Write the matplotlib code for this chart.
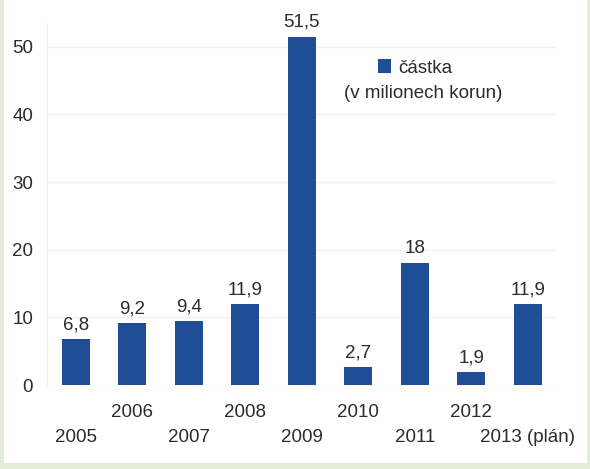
import matplotlib
matplotlib.use("Agg")
from matplotlib import pyplot as plt
from matplotlib.patches import Rectangle

roky = ['2005', '2006', '2007', '2008', '2009', '2010', '2011', '2012', '2013 (plán)']
castka = [6.8, 9.2, 9.4, 11.9, 51.5, 2.7, 18, 1.9, 11.9]
popisky = ['6,8', '9,2', '9,4', '11,9', '51,5', '2,7', '18', '1,9', '11,9']
yticks = [0, 10, 20, 30, 40, 50]

plt.rcParams['font.family'] = ['Liberation Sans', 'DejaVu Sans']
fs = 13.5
barva_textu = '#2b2b2b'

fig = plt.figure(figsize=(5.90, 4.69), dpi=100, facecolor='#e3ecd9')
# bily panel
fig.add_artist(Rectangle((4/590, 6/469), 583/590, 463/469, transform=fig.transFigure,
                         facecolor='white', edgecolor='none', zorder=-5))

ax = fig.add_axes([47/590, 1 - 385/469, 509/590, 362/469])
ax.set_facecolor('none')

x = list(range(len(roky)))
bars = ax.bar(x, castka, width=0.5, color='#1f4e96', zorder=3, label='částka')

ax.set_xlim(-0.51, 8.5)
ax.set_ylim(0, 53.5)
ax.set_yticks(yticks)
ax.set_yticklabels([str(v) for v in yticks], fontsize=fs, color=barva_textu)
ax.tick_params(axis='y', length=0, pad=10)
ax.set_xticks([])
ax.grid(axis='y', color='#f0f0f0', lw=1, zorder=0)
for s in ['top', 'right', 'bottom']:
    ax.spines[s].set_visible(False)
ax.spines['left'].set_color('#f0f0f0')

# hodnoty nad sloupci
for i, v in enumerate(castka):
    ax.annotate(popisky[i], (i, v), xytext=(0, 7), textcoords='offset points',
                ha='center', va='baseline', fontsize=fs, color=barva_textu)

# roky ve dvou radcich
for i, r in enumerate(roky):
    off = -38 if i % 2 == 0 else -19.5
    ax.annotate(r, (i, 0), xycoords=('data', 'axes fraction'), xytext=(0, off),
                textcoords='offset points', ha='center', va='center',
                fontsize=fs, color=barva_textu)

leg = fig.legend(handles=[bars], labels=['částka'], loc='center left',
                 bbox_to_anchor=(378/590, 1 - 68/469), frameon=False, borderpad=0,
                 borderaxespad=0, handlelength=0.7, handleheight=0.7,
                 handletextpad=0.4, fontsize=fs)
for t in leg.get_texts():
    t.set_color(barva_textu)
fig.text(423/590, 1 - 93/469, '(v milionech korun)', ha='center', va='center',
         fontsize=fs, color=barva_textu)

fig.savefig('out.png', dpi=100, facecolor=fig.get_facecolor())
